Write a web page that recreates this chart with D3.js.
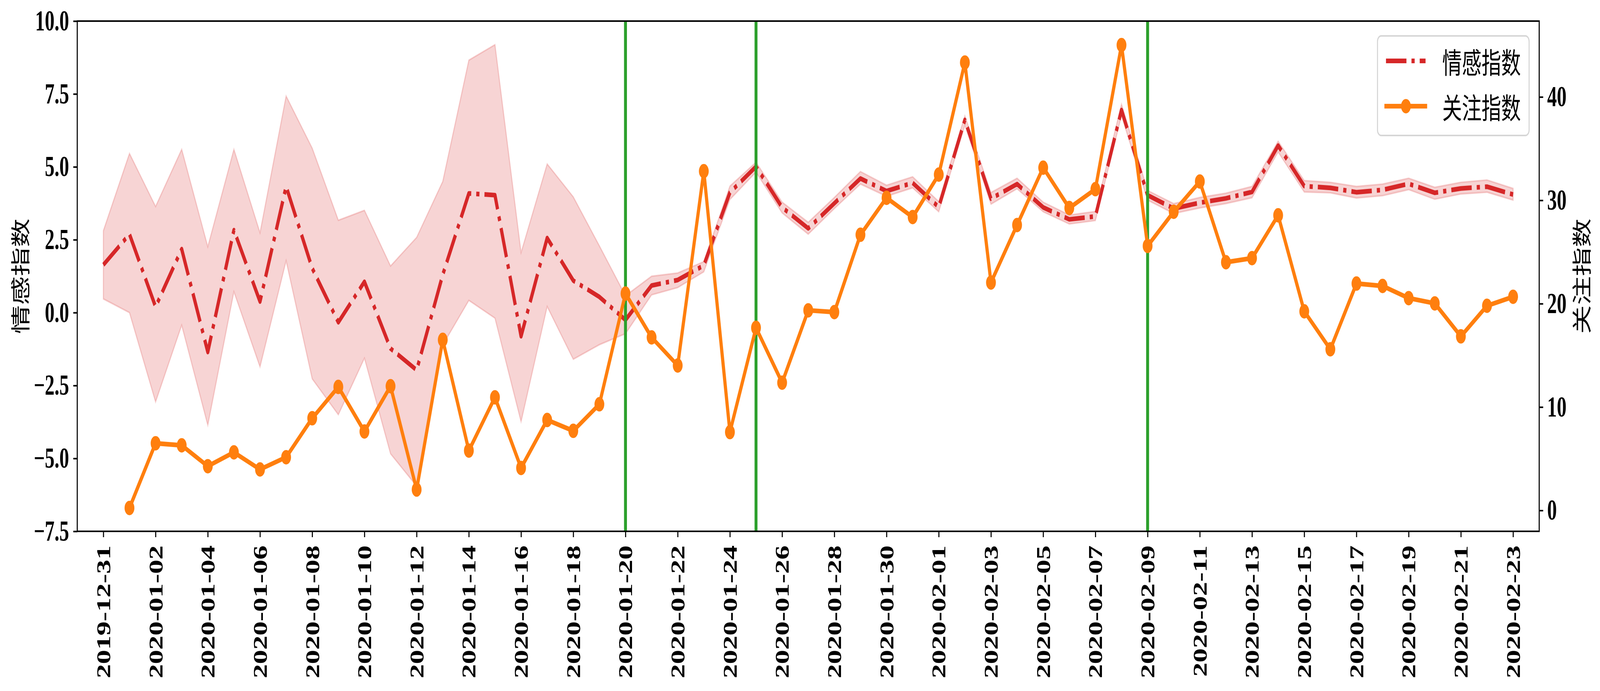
<!DOCTYPE html>
<html>
<head>
<meta charset="utf-8">
<script src="https://d3js.org/d3.v7.min.js"></script>
<style>
  html, body { margin:0; padding:0; background:#fff; overflow:hidden; }
  svg { display:block; }
</style>
</head>
<body>
<div id="chart"></div>
<script>
// days 2019-12-31 .. 2020-02-23
var dates = d3.timeDay.range(new Date(2019, 11, 31), new Date(2020, 1, 24));

// 情感指数: mean and band
var sentiment = [1.64, 2.69, 0.20, 2.18, -1.35, 2.83, 0.38, 4.33, 1.52, -0.33,
  1.06, -1.23, -1.97, 1.30, 4.09, 4.03, -0.81, 2.56, 1.10, 0.54,
  -0.25, 0.93, 1.12, 1.62, 4.12, 5.01, 3.61, 2.89, 3.75, 4.60,
  4.17, 4.45, 3.62, 6.61, 3.91, 4.41, 3.61, 3.20, 3.30, 6.95,
  4.03, 3.57, 3.77, 3.92, 4.14, 5.73, 4.34, 4.28, 4.13, 4.21,
  4.42, 4.11, 4.26, 4.32, 4.05];
var sentUpper = [2.81, 5.46, 3.64, 5.60, 2.26, 5.60, 2.74, 7.43, 5.64, 3.17,
  3.51, 1.60, 2.58, 4.50, 8.66, 9.19, 2.06, 5.10, 3.97, 2.29,
  0.58, 1.25, 1.36, 1.75, 4.34, 5.16, 3.79, 3.10, 3.95, 4.84,
  4.37, 4.66, 3.81, 6.75, 4.12, 4.61, 3.79, 3.35, 3.47, 7.15,
  4.19, 3.74, 3.95, 4.10, 4.33, 5.88, 4.53, 4.47, 4.33, 4.41,
  4.61, 4.30, 4.47, 4.55, 4.26];
var sentLower = [0.47, 0.00, -3.06, -0.43, -3.86, 0.72, -1.86, 1.78, -2.27, -3.50,
  -1.56, -4.84, -5.95, -1.11, 0.42, -0.19, -3.74, 0.21, -1.60, -1.10,
  -0.72, 0.61, 0.86, 1.40, 3.88, 4.82, 3.42, 2.69, 3.57, 4.41,
  3.99, 4.28, 3.46, 6.43, 3.72, 4.25, 3.46, 3.04, 3.16, 6.76,
  3.86, 3.40, 3.59, 3.74, 3.94, 5.51, 4.14, 4.11, 3.93, 4.01,
  4.22, 3.89, 4.07, 4.13, 3.86];

// 关注指数 starts on 2020-01-01
var attention = [0.24, 6.50, 6.30, 4.28, 5.62, 3.97, 5.15, 8.92, 11.95,
  7.64, 12.02, 2.02, 16.50, 5.79, 10.94, 4.11, 8.75, 7.70, 10.27,
  20.98, 16.74, 14.02, 32.82, 7.58, 17.67, 12.36, 19.36, 19.19, 26.67,
  30.24, 28.38, 32.49, 43.33, 22.05, 27.61, 33.16, 29.26, 31.08, 45.02,
  25.59, 28.89, 31.82, 24.01, 24.41, 28.55, 19.26, 15.59, 21.95, 21.72,
  20.54, 20.03, 16.84, 19.80, 20.67];

var markDates = [new Date(2020, 0, 20), new Date(2020, 0, 25), new Date(2020, 1, 9)];
var leftTicks = [-7.5, -5, -2.5, 0, 2.5, 5, 7.5, 10];
var rightTicks = [0, 10, 20, 30, 40];
var seriesNames = ["情感指数", "关注指数"];

var W = 6026, H = 1770;
var margin = {top: 54, right: 229, bottom: 409, left: 291},
  width = W - margin.left - margin.right,
  height = H - margin.top - margin.bottom;

var serif = "'Liberation Serif', 'Times New Roman', serif";
var cjk = "'Noto Sans CJK SC', 'Noto Sans', sans-serif";

// the figure is laid out at 6026x1770 and stretched to fill the window
var svg = d3.select("#chart")
  .append("svg")
  .attr("viewBox", "0 0 " + W + " " + H)
  .attr("preserveAspectRatio", "none")
  .style("width", "100vw")
  .style("height", "100vh")
  .style("background", "#fff");

var g = svg.append("g")
  .attr("transform", "translate(" + margin.left + "," + margin.top + ")");

var x = d3.scaleTime()
  .domain([new Date(2019, 11, 30), new Date(2020, 1, 24)])
  .range([0, width]);
var yL = d3.scaleLinear().domain([-7.5, 10]).range([height, 0]);
var yR = d3.scaleLinear().domain([-2.02, 47.34]).range([height, 0]);

var sentData = dates.map(function(d, i) {
  return {date: d, v: sentiment[i], hi: sentUpper[i], lo: sentLower[i]};
});
var attData = attention.map(function(v, i) {
  return {date: dates[i + 1], v: v};
});

// band
g.append("path")
  .datum(sentData)
  .attr("d", d3.area()
    .x(function(d) { return x(d.date); })
    .y0(function(d) { return yL(d.lo); })
    .y1(function(d) { return yL(d.hi); }))
  .style("fill", "rgba(214,39,40,0.2)")
  .style("stroke", "rgba(214,39,40,0.2)")
  .style("stroke-width", 4);

// mean line
g.append("path")
  .datum(sentData)
  .attr("d", d3.line()
    .x(function(d) { return x(d.date); })
    .y(function(d) { return yL(d.v); }))
  .style("fill", "none")
  .style("stroke", "#d62728")
  .style("stroke-width", 12)
  .style("stroke-dasharray", "77,19,12,19")
  .style("stroke-linejoin", "round");

// event lines
g.selectAll(".mark")
  .data(markDates)
  .enter()
  .append("line")
  .attr("x1", function(d) { return x(d); })
  .attr("x2", function(d) { return x(d); })
  .attr("y1", 0)
  .attr("y2", height)
  .style("stroke", "#2ca02c")
  .style("stroke-width", 11);

// attention line + markers
g.append("path")
  .datum(attData)
  .attr("d", d3.line()
    .x(function(d) { return x(d.date); })
    .y(function(d) { return yR(d.v); }))
  .style("fill", "none")
  .style("stroke", "#ff7f0e")
  .style("stroke-width", 12)
  .style("stroke-linejoin", "round")
  .style("stroke-linecap", "square");

g.selectAll(".dot")
  .data(attData)
  .enter()
  .append("circle")
  .attr("cx", function(d) { return x(d.date); })
  .attr("cy", function(d) { return yR(d.v); })
  .attr("r", 18.5)
  .style("fill", "#ff7f0e");

// axes
var xAxis = g.append("g")
  .attr("transform", "translate(0," + height + ")")
  .call(d3.axisBottom(x)
    .tickValues(dates.filter(function(d, i) { return i % 2 == 0; }))
    .tickFormat(d3.timeFormat("%Y-%m-%d"))
    .tickSize(15)
    .tickSizeOuter(0));
xAxis.selectAll("text")
  .attr("transform", "rotate(-90)")
  .attr("x", -36)
  .attr("y", 0)
  .attr("dy", "0.34em")
  .style("text-anchor", "end");

var leftAxis = g.append("g")
  .call(d3.axisLeft(yL)
    .tickValues(leftTicks)
    .tickFormat(d3.format(".1f"))
    .tickSize(15)
    .tickPadding(16)
    .tickSizeOuter(0));

var rightAxis = g.append("g")
  .attr("transform", "translate(" + width + ",0)")
  .call(d3.axisRight(yR)
    .tickValues(rightTicks)
    .tickSize(15)
    .tickPadding(15)
    .tickSizeOuter(0));

[xAxis, leftAxis, rightAxis].forEach(function(a) {
  a.select(".domain").remove();
  a.selectAll("line").style("stroke", "#000").style("stroke-width", 4);
  a.selectAll("text")
    .style("font-family", serif)
    .style("font-weight", "bold")
    .style("font-size", "73px")
    .style("fill", "#000");
});

// frame
g.append("rect")
  .attr("width", width)
  .attr("height", height)
  .style("fill", "none")
  .style("stroke", "#000")
  .style("stroke-width", 4);

// axis titles
svg.append("text")
  .attr("transform", "translate(72," + (margin.top + height / 2) + ") rotate(-90)")
  .attr("text-anchor", "middle")
  .attr("dominant-baseline", "central")
  .style("font-family", cjk)
  .style("font-size", "74px")
  .text(seriesNames[0]);

svg.append("text")
  .attr("transform", "translate(5952," + (margin.top + height / 2) + ") rotate(-90)")
  .attr("text-anchor", "middle")
  .attr("dominant-baseline", "central")
  .style("font-family", cjk)
  .style("font-size", "74px")
  .text(seriesNames[1]);

// legend
var lg = svg.append("g").attr("transform", "translate(5188,92)");
lg.append("rect")
  .attr("width", 571)
  .attr("height", 255)
  .attr("rx", 14)
  .style("fill", "rgba(255,255,255,0.8)")
  .style("stroke", "#d6d6d6")
  .style("stroke-width", 4);

lg.append("line")
  .attr("x1", 32).attr("x2", 181)
  .attr("y1", 64).attr("y2", 64)
  .style("stroke", "#d62728")
  .style("stroke-width", 12)
  .style("stroke-dasharray", "77,19,12,19");

lg.append("line")
  .attr("x1", 32).attr("x2", 181)
  .attr("y1", 180).attr("y2", 180)
  .style("stroke", "#ff7f0e")
  .style("stroke-width", 12)
  .style("stroke-linecap", "square");
lg.append("circle")
  .attr("cx", 107).attr("cy", 180).attr("r", 18.5)
  .style("fill", "#ff7f0e");

lg.selectAll(".lbl")
  .data(seriesNames)
  .enter()
  .append("text")
  .attr("x", 244)
  .attr("y", function(d, i) { return 64 + i * 116; })
  .attr("dominant-baseline", "central")
  .style("font-family", cjk)
  .style("font-size", "74px")
  .text(function(d) { return d; });
</script>
</body>
</html>
